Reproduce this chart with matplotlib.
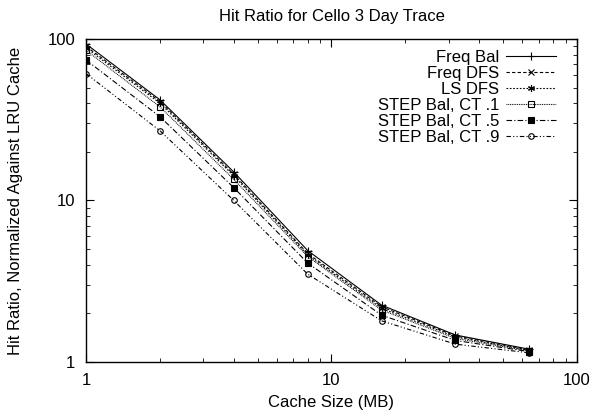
import matplotlib
matplotlib.use("Agg")
from matplotlib import pyplot as plt
import numpy as np

plt.rcParams['font.family'] = ['Liberation Sans', 'DejaVu Sans']

cache_mb = [1, 2, 4, 8, 16, 32, 64]
freq_bal = [93, 42, 15, 4.9, 2.25, 1.47, 1.20]
freq_dfs = [90, 41, 14.5, 4.7, 2.2, 1.45, 1.19]
ls_dfs = [88, 40, 14.2, 4.6, 2.15, 1.43, 1.18]
step_01 = [85, 38, 13.5, 4.5, 2.1, 1.40, 1.17]
step_05 = [74, 33, 12, 4.1, 1.95, 1.36, 1.16]
step_09 = [61, 27, 10, 3.5, 1.8, 1.29, 1.14]

labels = ["Freq Bal", "Freq DFS", "LS DFS",
          "STEP Bal, CT .1", "STEP Bal, CT .5", "STEP Bal, CT .9"]
series = [freq_bal, freq_dfs, ls_dfs, step_01, step_05, step_09]

styles = [
    dict(ls='-', marker='+', mfc='black', ms=6),
    dict(ls=(0, (3, 2)), marker='x', mfc='black', ms=4),
    dict(ls=(0, (1.5, 1.5)), marker=(6, 2, 0), mfc='black', ms=5),
    dict(ls=(0, (0.8, 0.8)), marker='s', mfc='none', ms=4),
    dict(ls=(0, (5, 2, 1, 2)), marker='s', mfc='black', ms=5),
    dict(ls=(0, (4, 2, 1, 2, 1, 2)), marker='o', mfc='none', ms=4),
]

fig = plt.figure(figsize=(5.94, 4.19), dpi=100)
ax = fig.add_axes([0.145, 0.136, 0.826, 0.771])

for y, lab, st in zip(series, labels, styles):
    ax.plot(cache_mb, y, color='black', lw=0.8, mec='black', mew=0.8,
            label=lab, **st)

ax.set_xscale('log')
ax.set_yscale('log')
ax.set_xlim(1, 100)
ax.set_ylim(1, 100)
ax.set_xticks([1, 10, 100])
ax.set_xticklabels(['1', '10', '100'])
ax.set_yticks([1, 10, 100])
ax.set_yticklabels(['1', '10', '100'])
ax.tick_params(which='both', direction='in', top=True, right=True,
               labelsize=12, pad=8)
ax.tick_params(which='major', length=6)
ax.tick_params(which='minor', length=3)
for sp in ax.spines.values():
    sp.set_linewidth(1.0)

ax.set_title("Hit Ratio for Cello 3 Day Trace", fontsize=12, pad=13)
ax.set_xlabel("Cache Size (MB)", fontsize=12)
ax.set_ylabel("Hit Ratio, Normalized Against LRU Cache", fontsize=12)
ax.xaxis.set_label_coords(0.5, -0.102)
ax.yaxis.set_label_coords(-0.128, 0.5)

leg = ax.legend(loc='upper right', bbox_to_anchor=(0.957, 0.966),
                frameon=False, markerfirst=False,
                fontsize=12, handlelength=3.0, labelspacing=0.06,
                borderaxespad=0.0, borderpad=0.0, handletextpad=0.4)
for t in leg.get_texts():
    t.set_ha('right')
leg._legend_box.align = 'right'

fig.savefig("out.png", dpi=100)
